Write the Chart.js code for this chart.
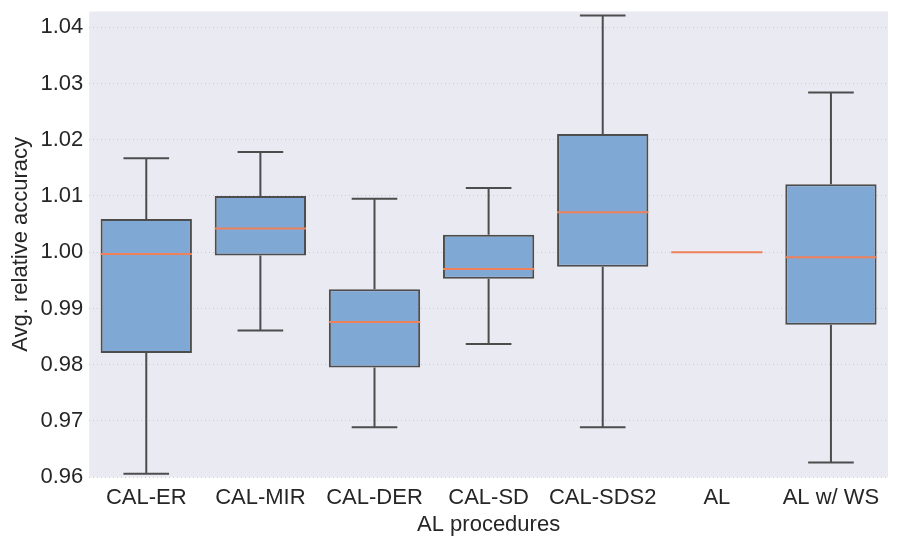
<!DOCTYPE html>
<html>
<head>
<meta charset="utf-8">
<script src="https://cdn.jsdelivr.net/npm/chart.js@4"></script>
<style>
  html, body { margin: 0; padding: 0; background: #fff; }
  #wrap { width: 899px; height: 545px; }
</style>
</head>
<body>
<div id="wrap"><canvas id="box-chart"></canvas></div>
<script>
// Categories and box statistics
const procedures = ['CAL-ER', 'CAL-MIR', 'CAL-DER', 'CAL-SD', 'CAL-SDS2', 'AL', 'AL w/ WS'];
const whiskerLow = [0.9606, 0.9861, 0.9689, 0.9837, 0.9689, 1.0000, 0.9626];
const quart1     = [0.9821, 0.9994, 0.9795, 0.9953, 0.9974, 1.0000, 0.9871];
const medians    = [0.9997, 1.0042, 0.9876, 0.9970, 1.0071, 1.0000, 0.9991];
const quart3     = [1.0059, 1.0100, 0.9934, 1.0031, 1.0210, 1.0000, 1.0121];
const whiskerHigh= [1.0167, 1.0178, 1.0095, 1.0114, 1.0421, 1.0000, 1.0284];
const yTicks = [0.96, 0.97, 0.98, 0.99, 1.00, 1.01, 1.02, 1.03, 1.04];

const edgeColor = '#4d4d4d';
const medianColor = '#f0805a';
const textColor = '#262626';
const fontFamily = 'Liberation Sans, Arial, sans-serif';

// grey panel background
const panelBg = {
    id: 'panelBg',
    beforeDraw(chart) {
        const { ctx, chartArea: a } = chart;
        ctx.save();
        ctx.fillStyle = '#eaeaf2';
        ctx.fillRect(a.left, a.top, a.right - a.left, a.bottom - a.top);
        ctx.restore();
    }
};

// whiskers behind the boxes, medians on top
const whiskers = {
    id: 'whiskers',
    beforeDatasetsDraw(chart) {
        const { ctx } = chart;
        const y = chart.scales.y;
        const meta = chart.getDatasetMeta(0);
        ctx.save();
        ctx.strokeStyle = edgeColor;
        ctx.lineWidth = 2;
        meta.data.forEach((bar, i) => {
            if (whiskerLow[i] === whiskerHigh[i]) return;
            const cx = bar.x;
            const cap = bar.width / 4;
            ctx.beginPath();
            ctx.moveTo(cx, y.getPixelForValue(quart3[i]));
            ctx.lineTo(cx, y.getPixelForValue(whiskerHigh[i]));
            ctx.moveTo(cx, y.getPixelForValue(quart1[i]));
            ctx.lineTo(cx, y.getPixelForValue(whiskerLow[i]));
            ctx.moveTo(cx - cap, y.getPixelForValue(whiskerHigh[i]));
            ctx.lineTo(cx + cap, y.getPixelForValue(whiskerHigh[i]));
            ctx.moveTo(cx - cap, y.getPixelForValue(whiskerLow[i]));
            ctx.lineTo(cx + cap, y.getPixelForValue(whiskerLow[i]));
            ctx.stroke();
        });
        ctx.restore();
    },
    afterDatasetsDraw(chart) {
        const { ctx } = chart;
        const y = chart.scales.y;
        const meta = chart.getDatasetMeta(0);
        ctx.save();
        ctx.strokeStyle = medianColor;
        ctx.lineWidth = 2;
        meta.data.forEach((bar, i) => {
            const half = bar.width / 2;
            const py = y.getPixelForValue(medians[i]);
            ctx.beginPath();
            ctx.moveTo(bar.x - half, py);
            ctx.lineTo(bar.x + half, py);
            ctx.stroke();
        });
        ctx.restore();
    }
};

const ctx = document.getElementById('box-chart').getContext('2d');
const boxChart = new Chart(ctx, {
    type: 'bar',
    data: {
        labels: procedures,
        datasets: [{
            data: procedures.map((p, i) => [quart1[i], quart3[i]]),
            backgroundColor: '#7fa8d4',
            borderColor: procedures.map((p, i) => quart1[i] === quart3[i] ? 'rgba(0,0,0,0)' : edgeColor),
            borderWidth: 2,
            borderSkipped: false,
            categoryPercentage: 0.8,
            barPercentage: 1.0
        }]
    },
    options: {
        responsive: true,
        maintainAspectRatio: false,
        animation: false,
        layout: { padding: { top: 0, right: 11, left: 8, bottom: 7 } },
        plugins: {
            legend: { display: false },
            tooltip: { enabled: false }
        },
        scales: {
            x: {
                grid: { display: false },
                border: { display: false },
                ticks: {
                    color: textColor,
                    font: { family: fontFamily, size: 22 },
                    padding: 0,
                    maxRotation: 0,
                    minRotation: 0,
                    autoSkip: false
                },
                title: {
                    display: true,
                    text: 'AL procedures',
                    color: textColor,
                    font: { family: fontFamily, size: 22 },
                    padding: { top: 0, bottom: 0 }
                }
            },
            y: {
                min: 0.96,
                max: 1.0428,
                afterBuildTicks(axis) {
                    axis.ticks = yTicks.map(v => ({ value: v }));
                },
                grid: { color: '#c8c8d0', lineWidth: 1, drawTicks: false },
                border: { display: false, dash: [1, 3] },
                ticks: {
                    color: textColor,
                    font: { family: fontFamily, size: 22, lineHeight: 0.5 },
                    padding: 6,
                    callback: v => v.toFixed(2)
                },
                title: {
                    display: true,
                    text: 'Avg. relative accuracy',
                    color: textColor,
                    font: { family: fontFamily, size: 22 },
                    padding: 0
                }
            }
        }
    },
    plugins: [panelBg, whiskers]
});
</script>
</body>
</html>
